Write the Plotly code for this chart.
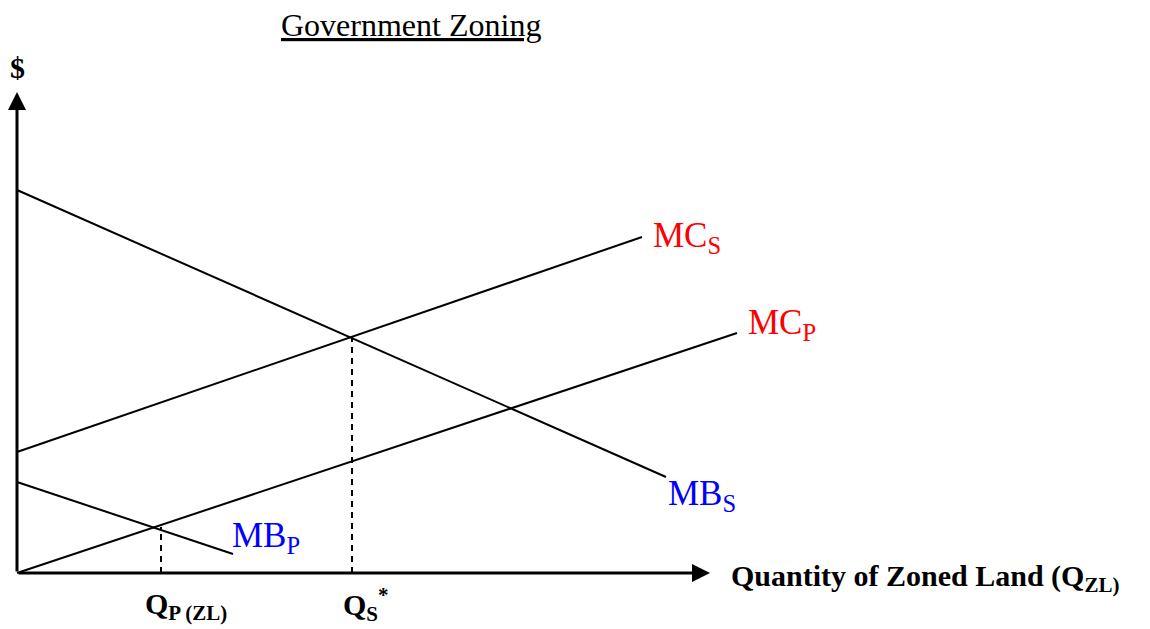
import plotly.graph_objects as go

# Data (abstract units: quantity of zoned land, $)
mb_s_q = [0, 64.9]
mb_s_p = [38.3, 9.6]
mc_s_q = [0, 62.5]
mc_s_p = [12.1, 33.6]
mc_p_q = [0, 72.0]
mc_p_p = [0, 24.0]
mb_p_q = [0, 21.6]
mb_p_p = [9.1, 1.9]
qs_star = 33.5
ps_star = 23.6
qp_zl = 14.4
pp_zl = 4.6
x_axis_end = 69.3
y_axis_end = 48.1

FONT = "Liberation Serif"
fig = go.Figure()

line_style = dict(color="black", width=2)
for q, p in [(mb_s_q, mb_s_p), (mc_s_q, mc_s_p), (mc_p_q, mc_p_p), (mb_p_q, mb_p_p)]:
    fig.add_trace(go.Scatter(x=q, y=p, mode="lines", line=line_style,
                             hoverinfo="skip", showlegend=False))

dash_style = dict(color="black", width=2, dash="6px,5px")
fig.add_trace(go.Scatter(x=[qs_star, qs_star], y=[0, ps_star], mode="lines",
                         line=dash_style, hoverinfo="skip", showlegend=False))
fig.add_trace(go.Scatter(x=[qp_zl, qp_zl], y=[0, pp_zl], mode="lines",
                         line=dash_style, hoverinfo="skip", showlegend=False))

# Axes with arrowheads
ann = []
ann.append(dict(x=0, y=y_axis_end, ax=0, ay=0, xref="x", yref="y", axref="x", ayref="y",
                showarrow=True, arrowhead=2, arrowsize=1.2, arrowwidth=3, arrowcolor="black", text=""))
ann.append(dict(x=x_axis_end, y=0, ax=0, ay=0, xref="x", yref="y", axref="x", ayref="y",
                showarrow=True, arrowhead=2, arrowsize=1.2, arrowwidth=3, arrowcolor="black", text=""))

def label(text, x, y, color="black", size=30, xanchor="left"):
    ann.append(dict(x=x, y=y, xref="x", yref="y", text=text, showarrow=False,
                    xanchor=xanchor, yanchor="middle",
                    font=dict(family=FONT, size=size, color=color)))

label("MC<sub>S</sub>", 63.4, 33.6, color="#ff0000", size=35)
label("MC<sub>P</sub>", 72.9, 24.9, color="#ff0000", size=35)
label("MB<sub>S</sub>", 64.9, 7.8, color="#0000ff", size=35)
label("MB<sub>P</sub>", 21.3, 3.6, color="#0000ff", size=35)
label("<b>Q<sub>P (ZL)</sub></b>", 16.9, -3.3, size=30, xanchor="center")
label("<b>Q<sub>S</sub><sup>*</sup></b>", 34.9, -3.1, size=30, xanchor="center")
label("<b>Quantity of Zoned Land (Q<sub>ZL)</sub></b>", 71.2, -0.5, size=30)
label("<b>$</b>", 0, 50.6, size=30, xanchor="center")
label("<u>Government Zoning</u>", 39.4, 54.8, size=32, xanchor="center")

# The page body has an 8px margin, so the figure is sized to fit the window.
fig.update_layout(
    width=1142, height=621,
    margin=dict(l=0, r=0, t=0, b=0),
    paper_bgcolor="white", plot_bgcolor="white",
    xaxis=dict(range=[-0.9, 113.3], visible=False, fixedrange=True),
    yaxis=dict(range=[-5.6, 56.5], visible=False, fixedrange=True),
    annotations=ann,
    showlegend=False,
)
fig.write_html("out.html", config={"displayModeBar": False})
